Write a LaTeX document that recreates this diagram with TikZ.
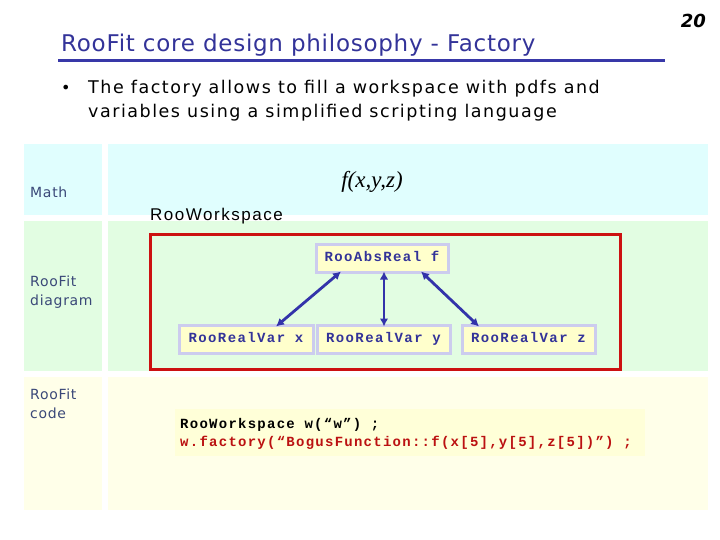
\documentclass[tikz,border=0pt]{standalone}
\usepackage{fontspec}
\setmainfont{DejaVu Sans}
\newfontfamily\titlefont[LetterSpace=3.2]{DejaVu Sans}
\newfontfamily\bulfont[LetterSpace=8.7]{DejaVu Sans}
\newfontfamily\labfont[LetterSpace=5]{DejaVu Sans}
\newfontfamily\monofont[LetterSpace=9]{Liberation Mono}
\newfontfamily\boxmono[LetterSpace=10]{Liberation Mono}
\newfontfamily\arialfont[LetterSpace=9]{Liberation Sans}
\newfontfamily\timesfont{Liberation Serif}
\usetikzlibrary{arrows.meta}
\definecolor{titleblue}{HTML}{333399}
\definecolor{lineblue}{HTML}{3838A8}
\definecolor{labblue}{HTML}{3A4878}
\definecolor{rowcyan}{HTML}{E0FEFE}
\definecolor{rowgreen}{HTML}{E2FDE2}
\definecolor{rowyellow}{HTML}{FFFFE9}
\definecolor{codebg}{HTML}{FFFFD8}
\definecolor{boxfill}{HTML}{FFFFCC}
\definecolor{boxedge}{HTML}{CCCCEE}
\definecolor{redbox}{HTML}{CC1111}
\definecolor{arrowblue}{HTML}{3333AA}
\definecolor{codered}{HTML}{BB1111}
\tikzset{
  lab/.style={anchor=base west, inner sep=0pt, text=labblue, font=\labfont\fontsize{14}{16}\selectfont},
  cls/.style={draw=boxedge, line width=3pt, fill=boxfill, minimum height=28pt, inner sep=0pt,
              text height=9pt, text depth=3pt,
              text=titleblue, font=\boxmono\bfseries\fontsize{14}{16}\selectfont},
  arr/.style={arrowblue, line width=2.8pt, {Latex[length=8pt,width=8.5pt]}-{Latex[length=8pt,width=8.5pt]}},
  codeline/.style={anchor=base west, inner sep=0pt, font=\monofont\bfseries\fontsize{14}{16}\selectfont}
}
\begin{document}
\begin{tikzpicture}[x=1pt,y=-1pt]
\useasboundingbox (0,0) rectangle (720,540);
\fill[white] (0,0) rectangle (720,540);
% page number
\node[anchor=base east, inner sep=0pt, font=\bfseries\itshape\fontsize{18}{20}\selectfont] (num) at (706,28) {20};
% title
\node[anchor=base west, inner sep=0pt, text=titleblue, font=\titlefont\fontsize{23}{26}\selectfont] (title) at (61,52) {RooFit core design philosophy - Factory};
\draw[lineblue, line width=3pt] (58,61) -- (665,61);
% bullet
\node[anchor=base west, inner sep=0pt, font=\fontsize{16}{24}\selectfont] (bul) at (61,94) {•};
\node[anchor=base west, inner sep=0pt, font=\bulfont\fontsize{17.5}{24}\selectfont] (b1) at (88,94) {The factory allows to fill a workspace with pdfs and};
\node[anchor=base west, inner sep=0pt, font=\bulfont\fontsize{17.5}{24}\selectfont] (b2) at (88,118) {variables using a simplified scripting language};
% table rows
\fill[rowcyan] (24,144) rectangle (102,215);
\fill[rowcyan] (108,144) rectangle (708,215);
\fill[rowgreen] (24,221) rectangle (102,371);
\fill[rowgreen] (108,221) rectangle (708,371);
\fill[rowyellow] (24,377) rectangle (102,510);
\fill[rowyellow] (108,377) rectangle (708,510);
% row labels
\node[lab] (lmath) at (30,198) {Math};
\node[lab] (ldia1) at (30,286) {RooFit};
\node[lab] (ldia2) at (30,305) {diagram};
\node[lab] (lcode1) at (30,399) {RooFit};
\node[lab] (lcode2) at (30,418) {code};
% math
\node[anchor=base, inner sep=0pt, font=\timesfont\itshape\fontsize{23}{26}\selectfont] (fxyz) at (372,188) {f(x,y,z)};
% workspace
\node[anchor=base west, inner sep=0pt, font=\arialfont\fontsize{17}{20}\selectfont] (ws) at (150,221) {RooWorkspace};
\draw[redbox, line width=3pt] (150,234) rectangle (620,369);
% class boxes
\node[cls, minimum width=132pt] (f) at (382,258) {RooAbsReal f};
\node[cls, minimum width=134pt] (x) at (246,339) {RooRealVar x};
\node[cls, minimum width=133pt] (y) at (383.5,339) {RooRealVar y};
\node[cls, minimum width=133pt] (z) at (528.5,339) {RooRealVar z};
\draw[arr] ([xshift=-41pt,yshift=2pt]f.south) -- ([xshift=30pt,yshift=-3pt]x.north);
\draw[arr] ([xshift=2pt,yshift=2pt]f.south) -- ([xshift=0.5pt,yshift=-3pt]y.north);
\draw[arr] ([xshift=39pt,yshift=2pt]f.south) -- ([xshift=-49.5pt,yshift=-3pt]z.north);
% code
\fill[codebg] (175,409) rectangle (645,456);
\node[codeline] (c1) at (180,428) {RooWorkspace w(“w”) ;};
\node[codeline, text=codered] (c2) at (180,446) {w.factory(“BogusFunction::f(x[5],y[5],z[5])”) ;};
\end{tikzpicture}
\end{document}
